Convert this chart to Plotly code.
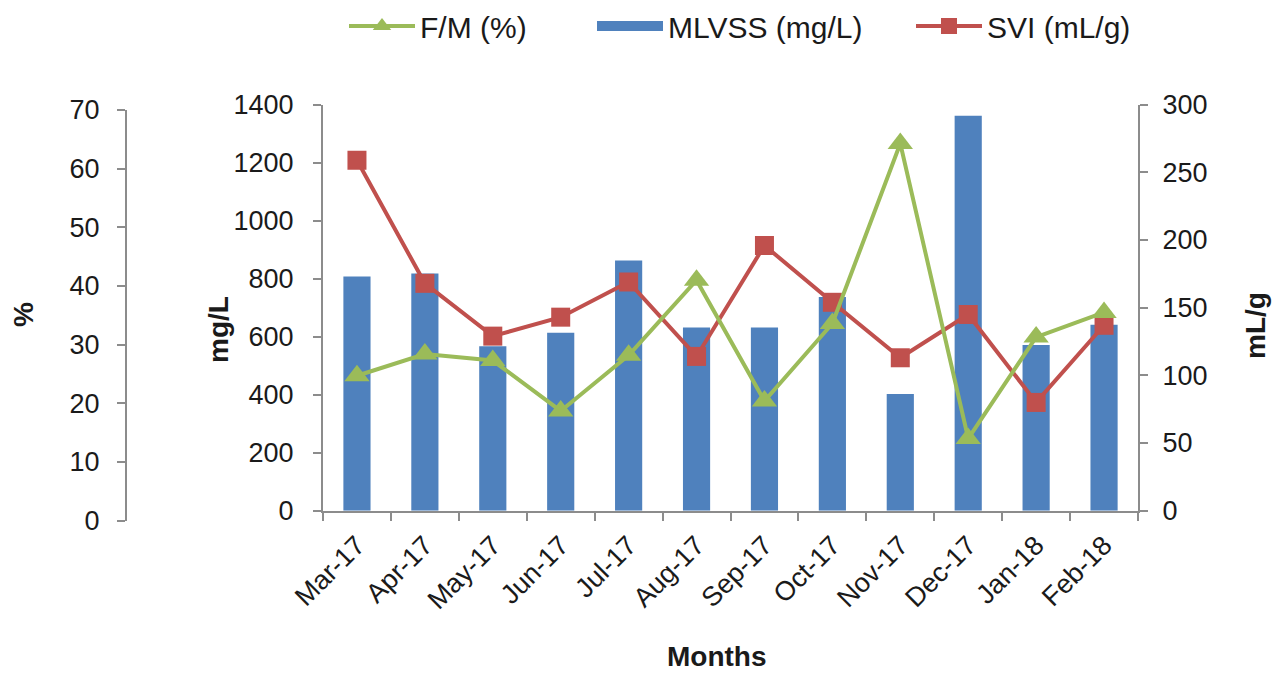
import plotly.graph_objects as go

# Monthly process data
months = ["Mar-17", "Apr-17", "May-17", "Jun-17", "Jul-17", "Aug-17",
          "Sep-17", "Oct-17", "Nov-17", "Dec-17", "Jan-18", "Feb-18"]
fm_pct = [24.7, 28.4, 27.3, 18.7, 28.2, 41.0, 20.4, 33.6, 64.3, 14.0, 31.3, 35.5]
mlvss_mgL = [808, 818, 567, 614, 863, 632, 632, 737, 402, 1362, 571, 641]
svi_mLg = [259, 168, 129, 143, 169, 114, 196, 154, 113, 145, 80, 137]

W, H = 1277, 675
FONT = "Liberation Sans, Arial, sans-serif"
TXT = "#1a1a1a"
AX = "#8c8c8c"
GREEN, BLUE, RED = "#9BBB59", "#4F81BD", "#C0504D"


def px_x(v):
    return v / W


def px_y(v):
    return 1 - v / H


fig = go.Figure()

# MLVSS bars on the mg/L axis
fig.add_trace(go.Bar(
    x=months, y=mlvss_mgL, name="MLVSS (mg/L)", xaxis="x", yaxis="y",
    marker=dict(color=BLUE, line=dict(width=0)), showlegend=False,
))
# legend key for the bars, drawn as a wide flat block
fig.add_trace(go.Scatter(
    x=[None], y=[None], name="MLVSS (mg/L)", mode="lines",
    line=dict(color=BLUE, width=14), legend="legend2", hoverinfo="skip",
))
# SVI on the right-hand mL/g axis
fig.add_trace(go.Scatter(
    x=months, y=svi_mLg, name="SVI (mL/g)", xaxis="x", yaxis="y2",
    mode="lines+markers", legend="legend3",
    line=dict(color=RED, width=4),
    marker=dict(symbol="square", size=19, color=RED),
))
# F/M on the outer % axis
fig.add_trace(go.Scatter(
    x=months, y=fm_pct, name="F/M (%)", xaxis="x", yaxis="y3",
    mode="lines+markers", legend="legend",
    line=dict(color=GREEN, width=4),
    marker=dict(symbol="triangle-up", size=22, color=GREEN),
))

tickfont = dict(family=FONT, size=27, color=TXT)
common_y = dict(
    showgrid=False, zeroline=False, showline=True, linecolor=AX, linewidth=2,
    ticks="outside", ticklen=8, tickwidth=2, tickcolor=AX, tickfont=tickfont,
    automargin=False,
)
legend_common = dict(
    orientation="h", yanchor="middle", xanchor="left", y=px_y(26),
    font=dict(family=FONT, size=30, color=TXT), itemwidth=66,
    bgcolor="rgba(0,0,0,0)", borderwidth=0,
)
title_font = dict(family=FONT, size=28, color=TXT)

fig.update_layout(
    width=W, height=H,
    margin=dict(l=0, r=0, t=0, b=0, autoexpand=False),
    paper_bgcolor="white", plot_bgcolor="rgba(0,0,0,0)",
    bargap=0.6,
    font=dict(family=FONT, color=TXT),
    xaxis=dict(
        domain=[px_x(323), px_x(1138)], anchor="y", type="category",
        range=[-0.5, len(months) - 0.5], automargin=False,
        showgrid=False, zeroline=False, showline=True, linecolor=AX, linewidth=2,
        ticks="outside", tickson="boundaries", ticklen=8, tickwidth=2, tickcolor=AX,
        tickangle=-45, tickfont=tickfont, ticklabelstandoff=6,
    ),
    yaxis=dict(
        domain=[px_y(510.7), px_y(104.7)], anchor="x", range=[0, 1400], dtick=200,
        ticklabelstandoff=14, **common_y,
    ),
    yaxis2=dict(
        overlaying="y", side="right", anchor="x", range=[0, 300], dtick=50,
        ticklabelstandoff=9, **common_y,
    ),
    yaxis3=dict(
        domain=[px_y(520.7), px_y(110)], anchor="free", position=px_x(126),
        side="left", range=[0, 70], dtick=10, ticklabelstandoff=12, **common_y,
    ),
    legend=dict(x=px_x(344), **legend_common),
    legend2=dict(x=px_x(592), **legend_common),
    legend3=dict(x=px_x(911), **legend_common),
    annotations=[
        dict(text="<b>Months</b>", x=px_x(717), y=px_y(656), xref="paper", yref="paper",
             xanchor="center", yanchor="middle", showarrow=False, font=title_font),
        dict(text="<b>%</b>", x=px_x(23), y=px_y(315), xref="paper", yref="paper",
             xanchor="center", yanchor="middle", showarrow=False, textangle=-90,
             font=title_font),
        dict(text="<b>mg/L</b>", x=px_x(218), y=px_y(330), xref="paper", yref="paper",
             xanchor="center", yanchor="middle", showarrow=False, textangle=-90,
             font=title_font),
        dict(text="<b>mL/g</b>", x=px_x(1255), y=px_y(326), xref="paper", yref="paper",
             xanchor="center", yanchor="middle", showarrow=False, textangle=-90,
             font=title_font),
    ],
)

fig.write_html("out.html")
